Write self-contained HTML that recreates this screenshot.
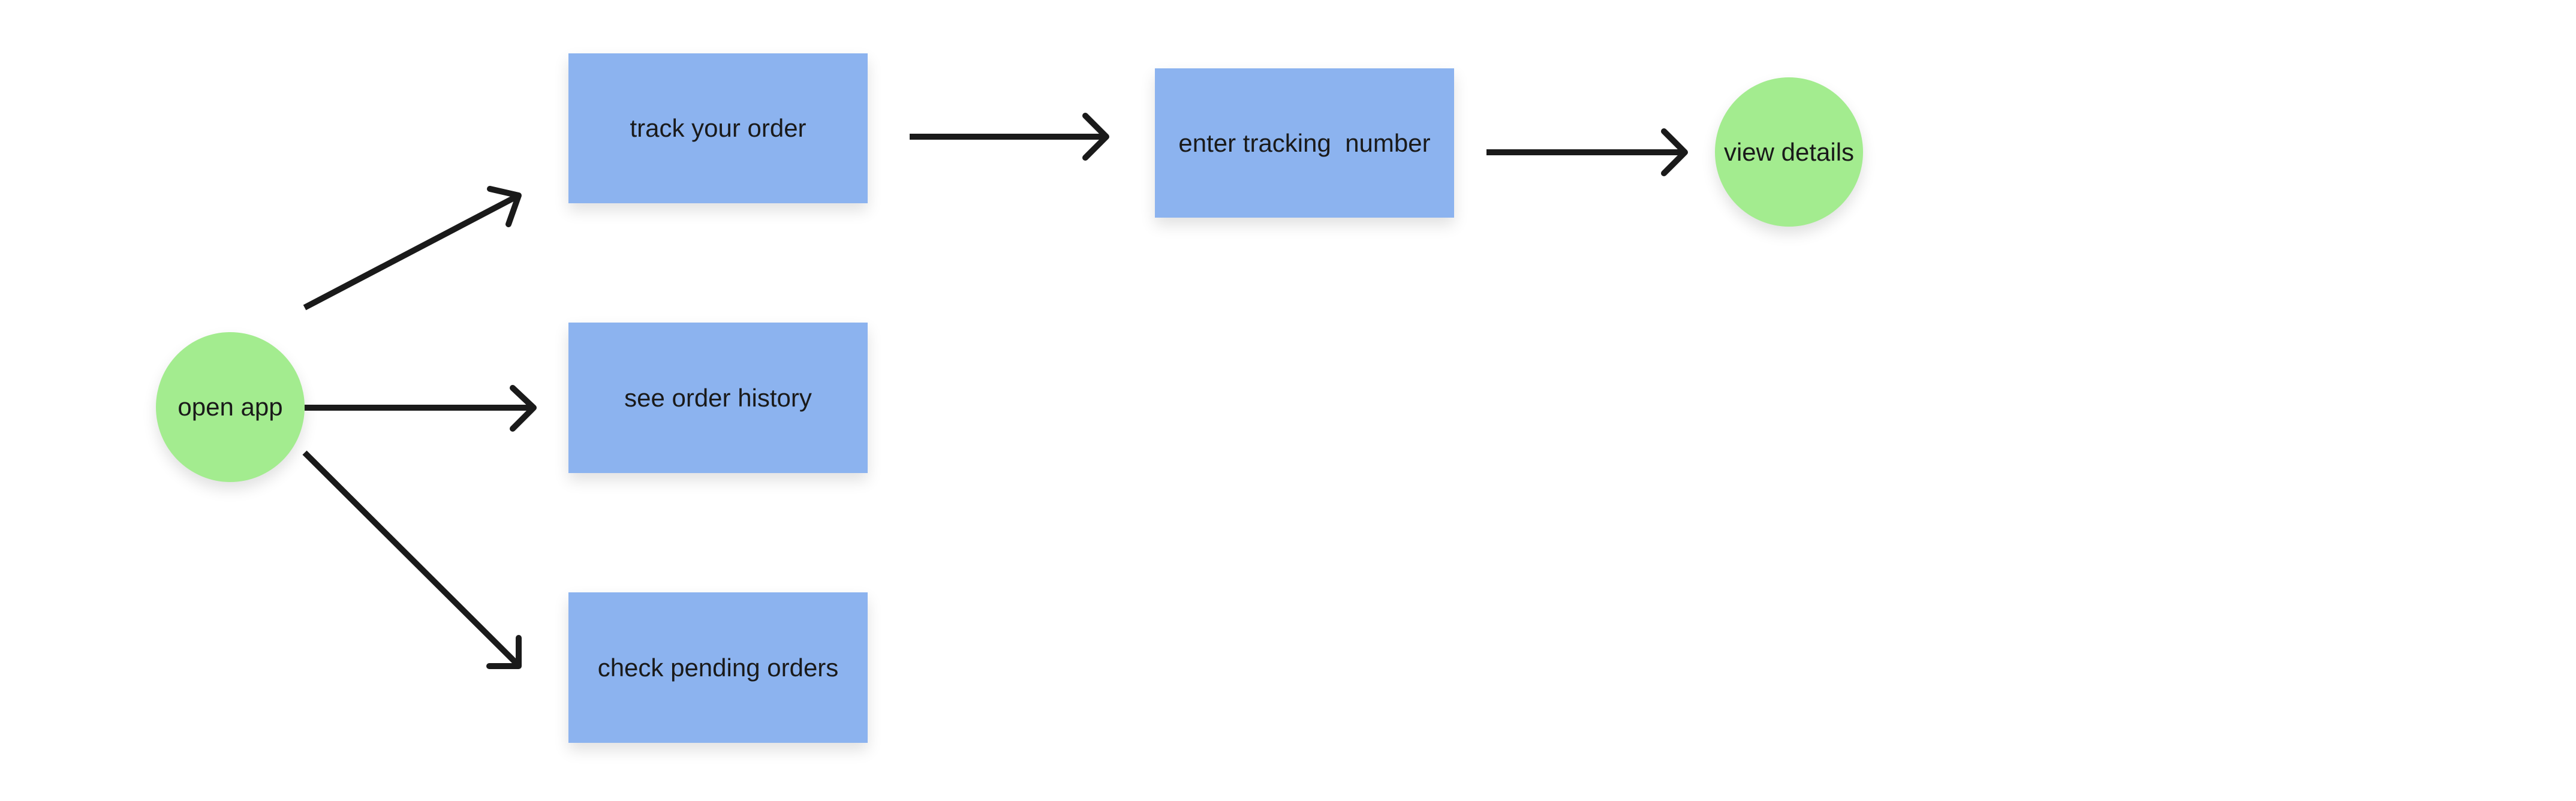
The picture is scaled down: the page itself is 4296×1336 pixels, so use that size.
<!DOCTYPE html>
<html><head><style>
html,body{margin:0;padding:0;background:#fff;}
body{width:4296px;height:1336px;position:relative;overflow:hidden;font-family:"Liberation Sans",sans-serif;}
.n{position:absolute;display:flex;align-items:center;justify-content:center;font-size:42px;color:#1a1a1a;box-shadow:0 12px 24px rgba(0,0,0,0.12);}
.r{background:#8cb3ef;}
.c{background:#a3ec8f;border-radius:50%;}
</style></head><body>
<div class="n r" style="left:948px;top:89px;width:499px;height:250px;">track your order</div>
<div class="n r" style="left:948px;top:538px;width:499px;height:251px;">see order history</div>
<div class="n r" style="left:948px;top:988px;width:499px;height:251px;">check pending orders</div>
<div class="n r" style="left:1926px;top:114px;width:499px;height:249px;">enter tracking&nbsp; number</div>
<div class="n c" style="left:260px;top:554px;width:248px;height:250px;">open app</div>
<div class="n c" style="left:2860px;top:129px;width:247px;height:249px;">view details</div>
<svg width="4296" height="1336" style="position:absolute;left:0;top:0" fill="none" stroke="#1a1a1a" stroke-width="10" stroke-linecap="round" stroke-linejoin="round">
<line x1="508" y1="513" x2="865" y2="326" stroke-linecap="butt"/>
<polyline points="817,315 865,326 848,374"/>
<line x1="508" y1="680" x2="890" y2="680" stroke-linecap="butt"/>
<polyline points="855,647 890,680 855,715"/>
<line x1="508" y1="755" x2="865" y2="1110" stroke-linecap="butt"/>
<polyline points="816,1111 865,1111 865,1064"/>
<line x1="1517" y1="228" x2="1845" y2="228" stroke-linecap="butt"/>
<polyline points="1810,193 1845,228 1810,263"/>
<line x1="2479" y1="254" x2="2810" y2="254" stroke-linecap="butt"/>
<polyline points="2775,219 2810,254 2775,289"/>
</svg>
</body></html>
